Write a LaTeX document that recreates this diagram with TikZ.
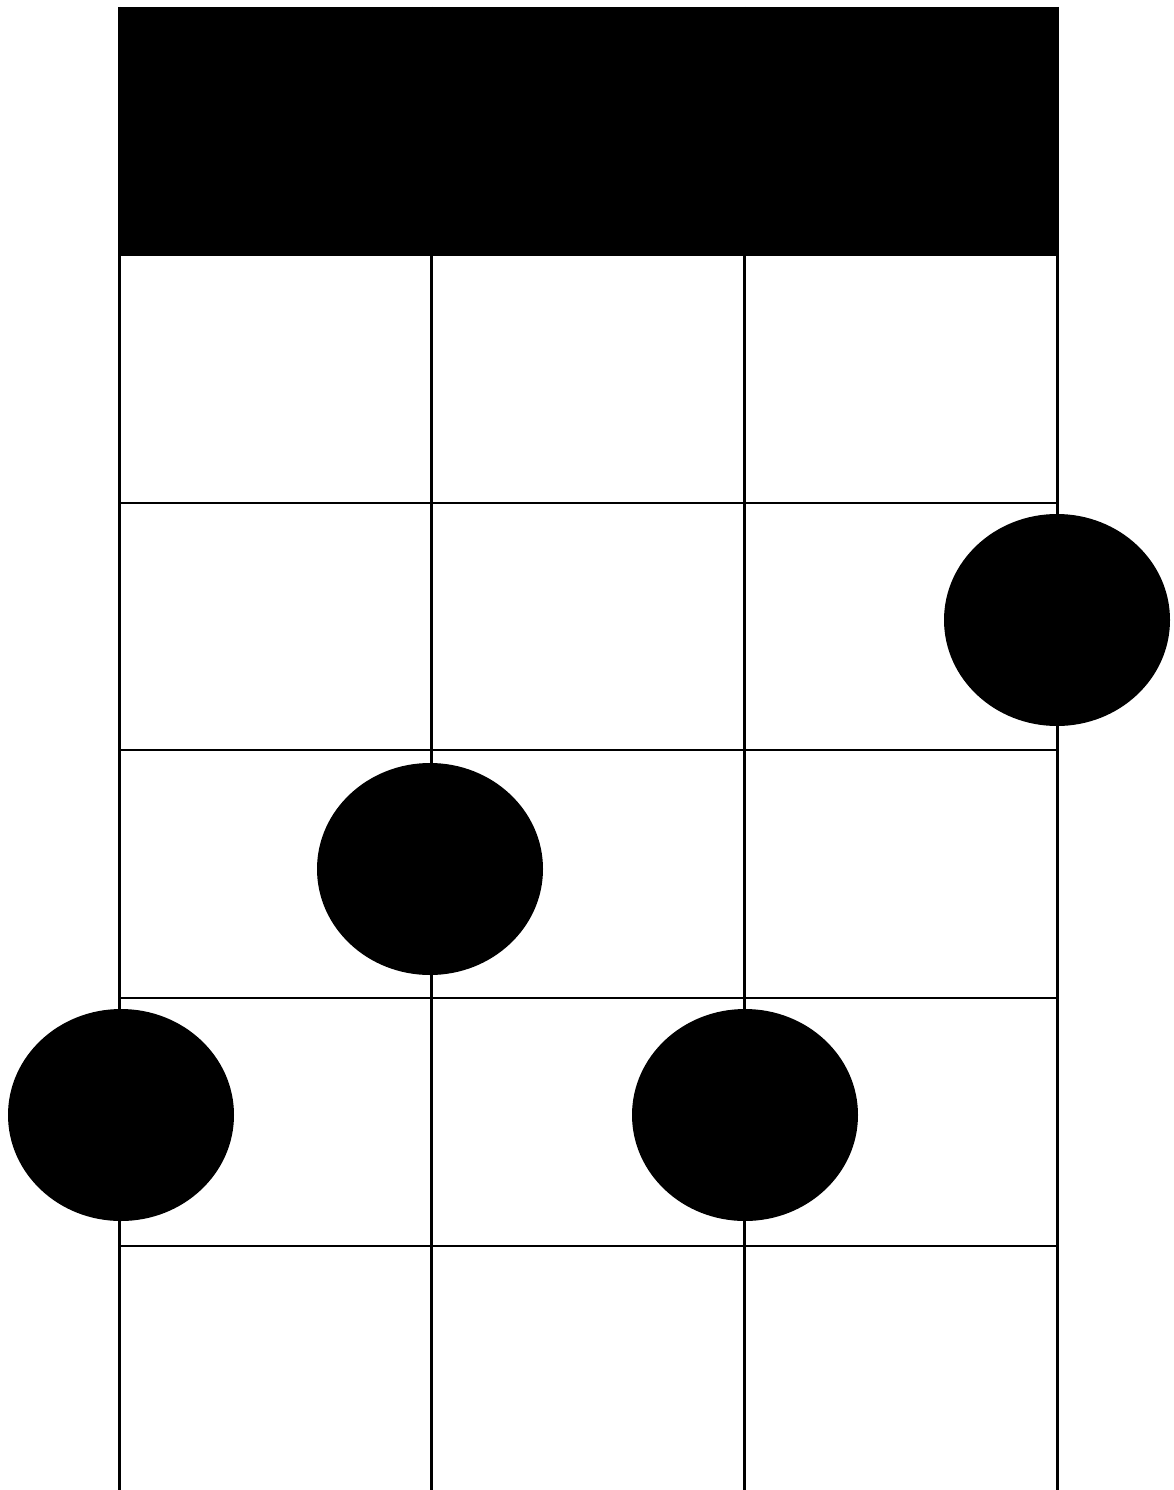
\documentclass[tikz,border=0pt]{standalone}
\usepackage{tikz}
\usetikzlibrary{shapes.geometric,positioning}

\tikzset{
  stringline/.style={line width=3pt, draw=black},
  fretline/.style={line width=2.6pt, draw=black},
  fingerdot/.style={ellipse, fill=black, inner sep=0pt, minimum width=226pt, minimum height=212pt}
}

\begin{document}
\begin{tikzpicture}[x=1pt,y=1pt]
            \useasboundingbox (0,0) rectangle (1174,-1490);
            % strings
            \foreach \sx [count=\i] in {119,431,744,1057} {
                \coordinate (s\i top) at (\sx,-7);
                \coordinate (s\i bot) at (\sx,-1490);
                \draw[stringline] (s\i top) -- (s\i bot);
            }
            % frets
            \foreach \fy [count=\j] in {503,750,998,1246} {
                \coordinate (f\j l) at (119,-\fy);
                \coordinate (f\j r) at (1057,-\fy);
                \draw[fretline] (f\j l) -- (f\j r);
            }
            % nut
            \node[fill=black, inner sep=0pt, minimum width=939pt, minimum height=249pt, anchor=north west] (nut) at (117.5,-7) {};
            % finger positions
            \node[fingerdot] (dotA) at (1057,-620) {};
            \node[fingerdot] (dotC) at (430,-869) {};
            \node[fingerdot] (dotG) at (121,-1115) {};
            \node[fingerdot] (dotE) at (745,-1115) {};
        \end{tikzpicture}
\end{document}
